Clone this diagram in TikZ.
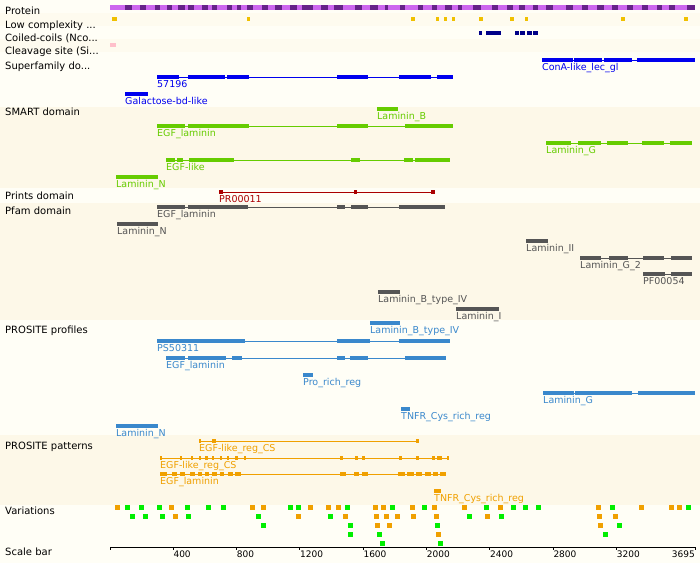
\documentclass[tikz,border=0pt]{standalone}
\usepackage{fontspec}
\setmainfont{DejaVu Sans}
\definecolor{bandlight}{HTML}{FFFEF6}
\definecolor{banddark}{HTML}{FDF8E8}
\definecolor{bandmid}{HTML}{FEFBEF}
\definecolor{protlight}{HTML}{CC66EE}
\definecolor{protdark}{HTML}{662288}
\definecolor{lowcx}{HTML}{F0C000}
\definecolor{coil}{HTML}{000088}
\definecolor{cleave}{HTML}{FFC0CB}
\definecolor{supfam}{HTML}{0000EE}
\definecolor{smart}{HTML}{66CC00}
\definecolor{prints}{HTML}{AA0000}
\definecolor{pfam}{HTML}{555555}
\definecolor{profile}{HTML}{3A88CC}
\definecolor{pattern}{HTML}{F0A000}
\definecolor{varorange}{HTML}{F0A000}
\definecolor{vargreen}{HTML}{00EE00}
\tikzset{
  rowlab/.style={anchor=base west, inner sep=0pt, font=\fontsize{10}{12}\selectfont},
  featlab/.style={anchor=base west, inner sep=0pt, text=#1, font=\fontsize{9.5}{11}\selectfont},
  blk/.style={draw=#1, line width=4.5pt},
  link/.style={draw=#1, line width=1pt},
  varbox/.style={fill=#1},
}
\begin{document}
\begin{tikzpicture}[x=1pt,y=-1pt]
    \useasboundingbox (0,0) rectangle (700,563);
    % Bands
    \fill[bandlight] (0,0) rectangle (700,563);
    \fill[bandmid] (0,13) rectangle (700,26);
    \fill[bandmid] (0,39) rectangle (700,52);
    \fill[banddark] (0,107) rectangle (700,188);
    \fill[banddark] (0,203) rectangle (700,320);
    \fill[banddark] (0,435) rectangle (700,505);
    % Row names
    \node[rowlab] (r-prot) at (5,14) {Protein};
    \node[rowlab] (r-low) at (5,28) {Low complexity ...};
    \node[rowlab] (r-coil) at (5,41.3) {Coiled-coils (Nco...};
    \node[rowlab] (r-cleave) at (5,54.6) {Cleavage site (Si...};
    \node[rowlab] (r-sf) at (5,69) {Superfamily do...};
    \node[rowlab] (r-smart) at (5,115.6) {SMART domain};
    \node[rowlab] (r-prints) at (5,199) {Prints domain};
    \node[rowlab] (r-pfam) at (5,214) {Pfam domain};
    \node[rowlab] (r-prof) at (5,333) {PROSITE profiles};
    \node[rowlab] (r-patt) at (5,449.6) {PROSITE patterns};
    \node[rowlab] (r-var) at (5,514) {Variations};
    \node[rowlab] (r-scale) at (5,555.6) {Scale bar};
    % Protein
    \draw[blk=protlight] (110,7.5) -- (695,7.5);
    \foreach \a/\b in {125/132,140/146,155/160,167/172,178/185,188/194,202/208,212/217,227/232,237/241,247/253,262/268,275/282,290/297,302/313,321/328,334/343,355/362,370/378,385/388,400/405,418/423,432/437,445/452,458/462,473/481,492/498,507/513,519/525,533/538,546/553,566/573,582/588,597/604,612/618,627/633,642/648,657/662,669/675,687/695}
        \draw[blk=protdark] (\a,7.5) -- (\b,7.5);
    % Low complexity, coiled-coils, cleavage site
    \foreach \a/\b in {112/117,247/250,411/415,436/439,444/447,452/455,479/483,510/514,525/528,621/625,684/688}
        \draw[blk=lowcx] (\a,19) -- (\b,19);
    \foreach \a/\b in {479/482,486/501,515/519,520/525,527/532,533/538}
        \draw[blk=coil] (\a,33) -- (\b,33);
    \draw[blk=cleave] (110,45) -- (116,45);
    % Superfamily domains
    \draw[link=supfam] (542,60) -- (695,60);
    \foreach \a/\b in {542/573,574/602,604/632,637/695}
        \draw[blk=supfam] (\a,60) -- (\b,60);
    \node[featlab=supfam] (sf-cona) at (542,70.5) {ConA-like\_lec\_gl};
    \draw[link=supfam] (157,77) -- (453,77);
    \foreach \a/\b in {157/179,188/225,227/249,337/368,399/431,437/453}
        \draw[blk=supfam] (\a,77) -- (\b,77);
    \node[featlab=supfam] (sf-57196) at (157,87) {57196};
    \draw[blk=supfam] (125,94) -- (148,94);
    \node[featlab=supfam] (sf-gal) at (125,104) {Galactose-bd-like};
    % SMART domains
    \draw[blk=smart] (377,109) -- (398,109);
    \node[featlab=smart] (sm-lamb) at (377,119) {Laminin\_B};
    \draw[link=smart] (157,126) -- (453,126);
    \foreach \a/\b in {157/185,188/249,337/368,405/453}
        \draw[blk=smart] (\a,126) -- (\b,126);
    \node[featlab=smart] (sm-egflam) at (157,136) {EGF\_laminin};
    \draw[link=smart] (546,143) -- (692,143);
    \foreach \a/\b in {546/571,578/601,607/628,642/664,670/692}
        \draw[blk=smart] (\a,143) -- (\b,143);
    \node[featlab=smart] (sm-lamg) at (546,153) {Laminin\_G};
    \draw[link=smart] (166,160) -- (450,160);
    \foreach \a/\b in {166/175,177/183,189/234,351/360,404/413,415/450}
        \draw[blk=smart] (\a,160) -- (\b,160);
    \node[featlab=smart] (sm-egf) at (166,170) {EGF-like};
    \draw[blk=smart] (116,177) -- (158,177);
    \node[featlab=smart] (sm-lamn) at (116,187) {Laminin\_N};
    % Prints domain
    \draw[link=prints] (219,192) -- (433,192);
    \foreach \a/\b in {219/223,354/357,431/435}
        \draw[blk=prints] (\a,192) -- (\b,192);
    \node[featlab=prints] (pr-11) at (219,202) {PR00011};
    % Pfam domains
    \draw[link=pfam] (157,207) -- (445,207);
    \foreach \a/\b in {157/185,188/248,337/345,351/368,399/445}
        \draw[blk=pfam] (\a,207) -- (\b,207);
    \node[featlab=pfam] (pf-egflam) at (157,217) {EGF\_laminin};
    \draw[blk=pfam] (117,224) -- (158,224);
    \node[featlab=pfam] (pf-lamn) at (117,234) {Laminin\_N};
    \draw[blk=pfam] (526,241) -- (548,241);
    \node[featlab=pfam] (pf-lamii) at (526,251) {Laminin\_II};
    \draw[link=pfam] (580,258) -- (692,258);
    \foreach \a/\b in {580/601,609/628,643/664,671/692}
        \draw[blk=pfam] (\a,258) -- (\b,258);
    \node[featlab=pfam] (pf-lamg2) at (580,268) {Laminin\_G\_2};
    \draw[link=pfam] (643,274) -- (692,274);
    \foreach \a/\b in {643/665,671/692}
        \draw[blk=pfam] (\a,274) -- (\b,274);
    \node[featlab=pfam] (pf-54) at (643,284) {PF00054};
    \draw[blk=pfam] (378,292) -- (400,292);
    \node[featlab=pfam] (pf-lambiv) at (378,302) {Laminin\_B\_type\_IV};
    \draw[blk=pfam] (456,309) -- (499,309);
    \node[featlab=pfam] (pf-lami) at (456,319) {Laminin\_I};
    % PROSITE profiles
    \draw[blk=profile] (370,323) -- (400,323);
    \node[featlab=profile] (ps-lambiv) at (370,333) {Laminin\_B\_type\_IV};
    \draw[link=profile] (157,341) -- (450,341);
    \foreach \a/\b in {157/245,337/370,399/450}
        \draw[blk=profile] (\a,341) -- (\b,341);
    \node[featlab=profile] (ps-50311) at (157,351) {PS50311};
    \draw[link=profile] (166,358) -- (446,358);
    \foreach \a/\b in {166/185,188/226,232/242,337/345,350/368,405/446}
        \draw[blk=profile] (\a,358) -- (\b,358);
    \node[featlab=profile] (ps-egflam) at (166,368) {EGF\_laminin};
    \draw[blk=profile] (303,375) -- (313,375);
    \node[featlab=profile] (ps-pro) at (303,385) {Pro\_rich\_reg};
    \draw[link=profile] (543,393) -- (695,393);
    \foreach \a/\b in {543/574,575/632,638/695}
        \draw[blk=profile] (\a,393) -- (\b,393);
    \node[featlab=profile] (ps-lamg) at (543,403) {Laminin\_G};
    \draw[blk=profile] (401,409) -- (410,409);
    \node[featlab=profile] (ps-tnfr) at (401,419) {TNFR\_Cys\_rich\_reg};
    \draw[blk=profile] (116,426) -- (158,426);
    \node[featlab=profile] (ps-lamn) at (116,436) {Laminin\_N};
    % PROSITE patterns
    \draw[link=pattern] (199,441) -- (419,441);
    \foreach \a/\b in {199/201,212/216,416/419}
        \draw[blk=pattern] (\a,441) -- (\b,441);
    \node[featlab=pattern] (pt-egfcs1) at (199,451) {EGF-like\_reg\_CS};
    \draw[link=pattern] (160,458) -- (449,458);
    \foreach \a/\b in {160/162,180/182,191/193,199/201,205/208,212/214,220/222,227/229,235/238,244/246,340/343,355/358,362/365,399/402,416/419,432/435,437/442,447/449}
        \draw[blk=pattern] (\a,458) -- (\b,458);
    \node[featlab=pattern] (pt-egfcs2) at (160,468) {EGF-like\_reg\_CS};
    \draw[link=pattern] (160,474) -- (446,474);
    \foreach \a/\b in {160/167,172/177,180/185,190/195,198/202,205/209,212/217,220/224,228/233,235/241,340/346,354/359,362/368,398/405,407/414,416/422,425/431,433/438,440/446}
        \draw[blk=pattern] (\a,474) -- (\b,474);
    \node[featlab=pattern] (pt-egflam) at (160,484) {EGF\_laminin};
    \draw[blk=pattern] (434,491) -- (441,491);
    \node[featlab=pattern] (pt-tnfr) at (434,501) {TNFR\_Cys\_rich\_reg};
    % Variations
    \foreach \x in {117,171,252,263,310,328,338,375,383,412,434,464,500,598,641,671,679}
        \fill[varbox=varorange] (\x-2.5,504.5) rectangle ++(5,5);
    \foreach \x in {127,141,159,187,208,223,290,298,347,392,424,486,513,525,538,612,688}
        \fill[varbox=vargreen] (\x-2.5,504.5) rectangle ++(5,5);
    \foreach \x in {175,298,345,376,386,397,413,436,487,599,615}
        \fill[varbox=varorange] (\x-2.5,513.5) rectangle ++(5,5);
    \foreach \x in {132,145,162,188,258,330,469,501}
        \fill[varbox=vargreen] (\x-2.5,513.5) rectangle ++(5,5);
    \foreach \x in {377,389,600}
        \fill[varbox=varorange] (\x-2.5,522.5) rectangle ++(5,5);
    \foreach \x in {263,350,437,619}
        \fill[varbox=vargreen] (\x-2.5,522.5) rectangle ++(5,5);
    \fill[varbox=varorange] (438-2.5,531.5) rectangle ++(5,5);
    \foreach \x in {350,379,605}
        \fill[varbox=vargreen] (\x-2.5,531.5) rectangle ++(5,5);
    \foreach \x in {382,440}
        \fill[varbox=vargreen] (\x-2.5,540.5) rectangle ++(5,5);
    % Scale bar
    \draw[line width=1pt] (110,547) -- (695,547);
    \foreach \k in {0,...,8}
        \draw[line width=1pt] (110+63.33*\k,547) -- ++(0,3);
    \draw[line width=1pt] (695,547) -- ++(0,3);
    \foreach \k in {1,...,8}
        \pgfmathtruncatemacro{\lbl}{400*\k}
        \node[anchor=base west, inner sep=0pt, font=\fontsize{9}{11}\selectfont] (tick-\k) at (110+63.33*\k,557) {\lbl};
    \node[anchor=base east, inner sep=0pt, font=\fontsize{9}{11}\selectfont] (tick-end) at (695,557) {3695};
\end{tikzpicture}
\end{document}
